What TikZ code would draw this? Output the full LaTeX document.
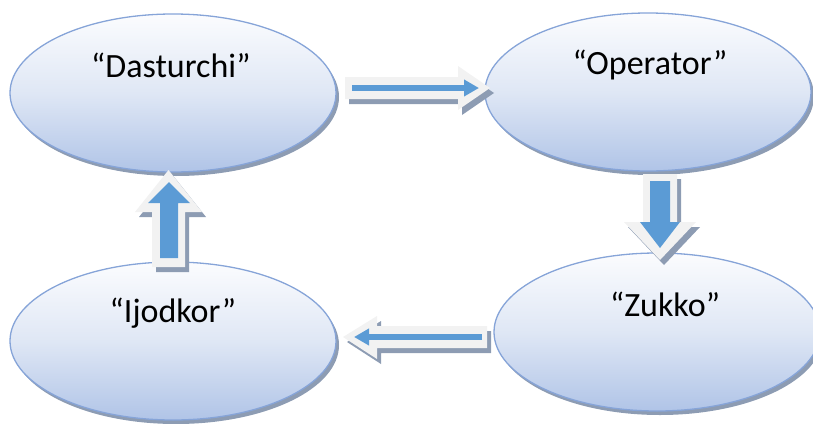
\documentclass[tikz,border=0pt]{standalone}
\usepackage{fontspec}
\setmainfont{Carlito}
\usetikzlibrary{shapes.geometric,arrows.meta}
\definecolor{ebord}{HTML}{86A4D8}
\definecolor{etop}{HTML}{FBFCFE}
\definecolor{emid}{HTML}{DFE7F5}
\definecolor{ebot}{HTML}{B0C4E7}
\definecolor{shad}{HTML}{8D9CB3}
\definecolor{afill}{HTML}{F2F2F2}
\definecolor{ablue}{HTML}{5B9BD5}
\begin{document}
\begin{tikzpicture}[x=1pt,y=-1pt,
  oval/.style={ellipse, minimum width=326pt, minimum height=158pt, inner sep=0pt, draw=ebord, line width=1.3pt, top color=etop, bottom color=ebot, middle color=emid},
  ovalshadow/.style={ellipse, minimum width=326pt, minimum height=158pt, inner sep=0pt, fill=shad},
  lbl/.style={font=\fontsize{34}{40}\selectfont, anchor=mid, inner sep=0pt},
  blockarrow/.style={fill=afill},
  blockshadow/.style={fill=shad},
  thinarrow/.style={draw=ablue, line width=6pt, -{Triangle[length=15pt,width=16pt]}},
  bluearrow/.style={fill=ablue}
]
\useasboundingbox (0,0) rectangle (813,423);
\clip (0,0) rectangle (813,423);
% shadows of ovals
\node[ovalshadow] (sD) at (176,97) {};
\node[ovalshadow] (sO) at (651,96) {};
\node[ovalshadow] (sZ) at (660,336) {};
\node[ovalshadow] (sI) at (176,345) {};
% ovals
\node[oval] (D) at (173,93) {};
\node[oval] (O) at (648,92) {};
\node[oval] (Z) at (657,332) {};
\node[oval] (I) at (173,341) {};
% labels
\node[lbl] (tD) at (171,75) {“Dasturchi”};
\node[lbl] (tO) at (650,72) {“Operator”};
\node[lbl] (tZ) at (665,314) {“Zukko”};
\node[lbl] (tI) at (173,320) {“Ijodkor”};
% right arrow D -> O
\begin{scope}[shift={(4,5)}]
\fill[blockshadow] (345,77) -- (458,77) -- (458,66) -- (490,88) -- (458,110) -- (458,99) -- (345,99) -- cycle;
\end{scope}
\fill[blockarrow] (345,77) -- (458,77) -- (458,66) -- (490,88) -- (458,110) -- (458,99) -- (345,99) -- cycle;
\coordinate (a1s) at (352,88);
\coordinate (a1e) at (479,88);
\draw[thinarrow] (a1s) -- (a1e);
% down arrow O -> Z
\begin{scope}[shift={(4,5)}]
\fill[blockshadow] (643,174) -- (677,174) -- (677,222) -- (696,222) -- (660,260) -- (624,222) -- (643,222) -- cycle;
\end{scope}
\fill[blockarrow] (643,174) -- (677,174) -- (677,222) -- (696,222) -- (660,260) -- (624,222) -- (643,222) -- cycle;
\fill[bluearrow] (650,181) -- (670,181) -- (670,222) -- (680,222) -- (660,248) -- (640,222) -- (650,222) -- cycle;
% left arrow Z -> I
\begin{scope}[shift={(4,5)}]
\fill[blockshadow] (487,326) -- (377,326) -- (377,316) -- (343,337) -- (377,359) -- (377,348) -- (487,348) -- cycle;
\end{scope}
\fill[blockarrow] (487,326) -- (377,326) -- (377,316) -- (343,337) -- (377,359) -- (377,348) -- (487,348) -- cycle;
\coordinate (a3s) at (482,337);
\coordinate (a3e) at (354,337);
\draw[thinarrow] (a3s) -- (a3e);
% up arrow I -> D
\begin{scope}[shift={(4,5)}]
\fill[blockshadow] (152,267) -- (152,212) -- (135,212) -- (168.5,170) -- (202,212) -- (185,212) -- (185,267) -- cycle;
\end{scope}
\fill[blockarrow] (152,267) -- (152,212) -- (135,212) -- (168.5,170) -- (202,212) -- (185,212) -- (185,267) -- cycle;
\fill[bluearrow] (160,258) -- (160,203) -- (148,203) -- (169,182) -- (190,203) -- (178,203) -- (178,258) -- cycle;
\end{tikzpicture}
\end{document}
